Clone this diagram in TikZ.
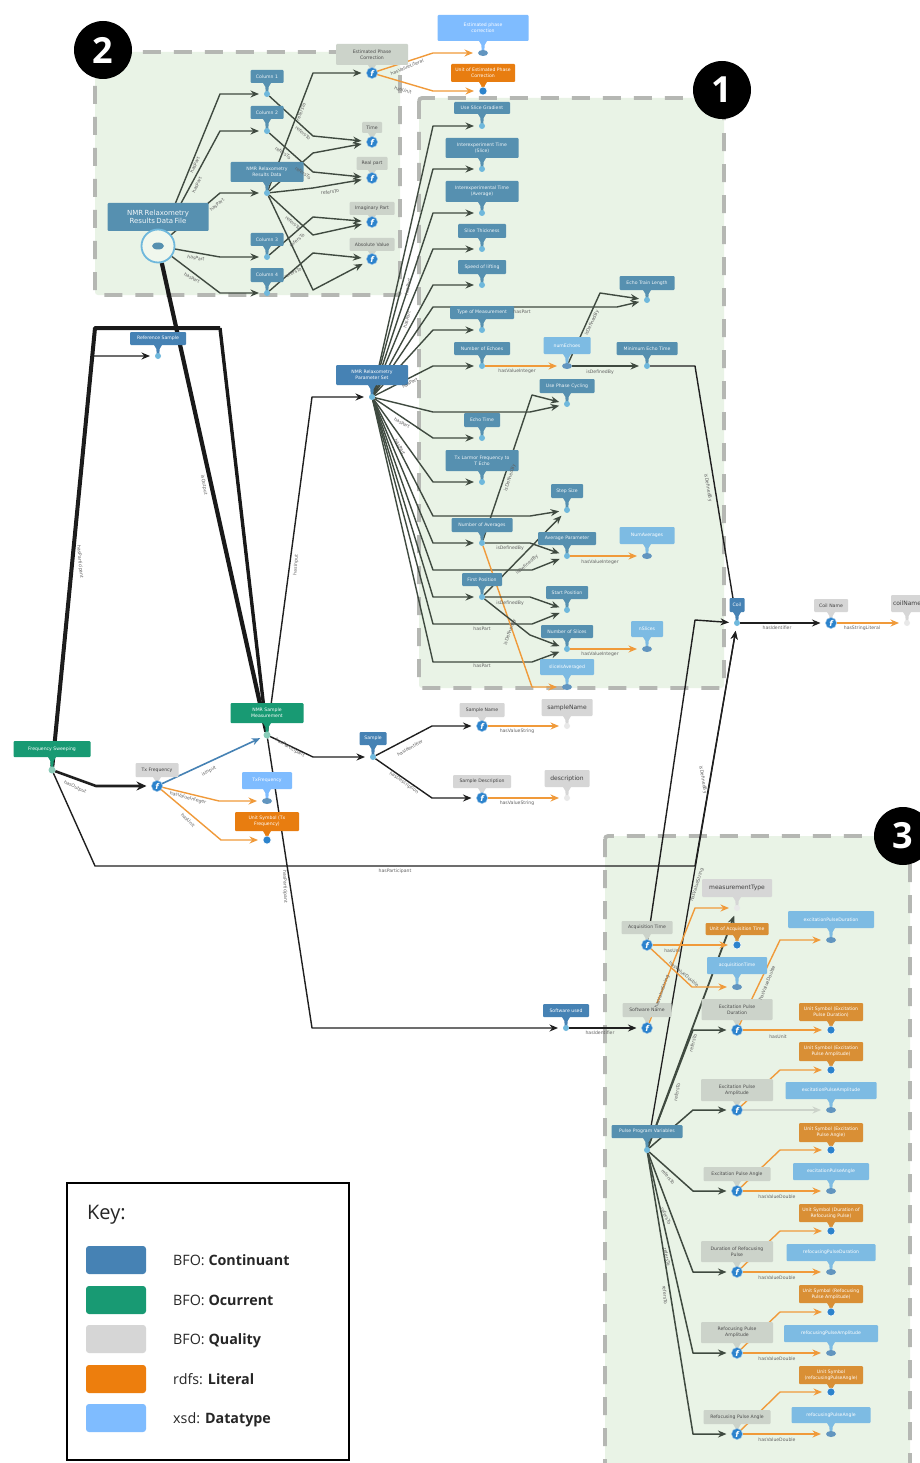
\documentclass[tikz,border=0pt]{standalone}
\usepackage{fontspec}
\setmainfont{DejaVu Sans}
\newfontfamily\keyf{Open Sans}
\usetikzlibrary{arrows.meta,shapes.geometric}
\definecolor{panelg}{HTML}{E9F3E6}
\definecolor{dashg}{HTML}{B5B7B3}
\definecolor{cC}{HTML}{4682B4}
\definecolor{cCp}{HTML}{5690B0}
\definecolor{cO}{HTML}{189A73}
\definecolor{cQ}{HTML}{D6D6D6}
\definecolor{cQp}{HTML}{CCD3CA}
\definecolor{cL}{HTML}{E87D10}
\definecolor{cLp}{HTML}{D98F35}
\definecolor{cD}{HTML}{7FBCFF}
\definecolor{cDp}{HTML}{7DBBE3}
\definecolor{edg}{HTML}{3F4A40}
\definecolor{oran}{HTML}{F09A3A}
\definecolor{iconb}{HTML}{2C83CC}
\definecolor{lightdot}{HTML}{6FB8DC}
\pgfdeclarelayer{panels}\pgfdeclarelayer{edges}
\pgfsetlayers{panels,edges,main}
\tikzset{
 panelbox/.style={fill=panelg,draw=dashg,line width=3.8pt,dash pattern=on 18pt off 13pt,rounded corners=3pt},
 badge/.style={circle,fill=black,text=white,minimum size=58pt,inner sep=0pt,font=\keyf\bfseries\fontsize{36}{36}\selectfont},
 basebox/.style={rectangle,rounded corners=1pt,inner sep=0pt,outer sep=0pt,align=center,font=\fontsize{4.6}{6}\selectfont},
 Cbox/.style={basebox,fill=cC,text=white},Cpbox/.style={basebox,fill=cCp,text=white!92!cCp},
 Obox/.style={basebox,fill=cO,text=white},Qbox/.style={basebox,fill=cQ,text=black!75},
 Qpbox/.style={basebox,fill=cQp,text=black!70},Lbox/.style={basebox,fill=cL,text=white},
 Lpbox/.style={basebox,fill=cLp,text=white},Dbox/.style={basebox,fill=cD,text=white},
 Dpbox/.style={basebox,fill=cDp,text=white},Vbox/.style={basebox,fill=cQ,text=black!75,font=\fontsize{6}{7}\selectfont},
 Ctip/.style={fill=cC},Cptip/.style={fill=cCp},Otip/.style={fill=cO},Qtip/.style={fill=cQ},Qptip/.style={fill=cQp},
 Ltip/.style={fill=cL},Lptip/.style={fill=cLp},Dtip/.style={fill=cD},Dptip/.style={fill=cDp},Vtip/.style={fill=cQ},
 basedot/.style={inner sep=0pt,outer sep=0pt},
 Cdot/.style={basedot,circle,fill=lightdot,minimum size=6pt},Cpdot/.style={basedot,circle,fill=lightdot,minimum size=6pt},
 Odot/.style={basedot,circle,fill=cO!50!white,minimum size=7pt},
 Qdot/.style={basedot,circle,fill=iconb,draw=white!50!iconb,line width=.5pt,minimum size=11pt,text=white},
 Qpdot/.style={Qdot},Ldot/.style={basedot,circle,fill=iconb,draw=white,line width=.5pt,minimum size=8pt},Lpdot/.style={Ldot},
 Ddot/.style={basedot,ellipse,fill=cC!85!white,minimum width=10pt,minimum height=6pt},Dpdot/.style={Ddot},
 Vdot/.style={basedot,circle,fill=cQ!55!white,minimum size=6pt},
 ed/.style={draw=edg,line width=1.4pt,line join=round,shorten >=5pt,-{Stealth[length=8.5pt,width=7pt]}},
 edk/.style={ed,draw=black!88},
 oed/.style={ed,draw=oran},
 lab/.style={inner sep=0pt,text=black!62,font=\fontsize{4.6}{5}\selectfont},
 swatch/.style={rounded corners=3pt,minimum width=60pt,minimum height=28pt,inner sep=0pt},
 keylab/.style={anchor=base west,inner sep=0pt,font=\keyf\fontsize{14.3}{18}\selectfont,text=black!85},
}
\newcommand{\Qicon}{\fontsize{8}{8}\selectfont\bfseries\itshape f}
\newcommand{\Qpicon}{\Qicon}
\newcommand{\cn}[8]{% kind,name,cx,width,y1,y2,doty,text
 \pgfmathsetmacro{\cmy}{(#5+#6)/2}\pgfmathsetmacro{\chh}{#6-#5}\pgfmathsetmacro{\ctw}{#4-3}
 \fill[#1tip] (#3-4,#6) -- (#3-1.6,#6+4) -- (#3-1.3,#7) -- (#3+1.3,#7) -- (#3+1.6,#6+4) -- (#3+4,#6) -- cycle;
 \node[#1box,minimum width=#4pt,minimum height=\chh pt,text width=\ctw pt] (#2box) at (#3,\cmy) {#8};
 \node[#1dot] (#2) at (#3,#7) {\csname#1icon\endcsname};
}
\newcounter{lb}
\newcommand{\elab}[4]{\stepcounter{lb}\node[lab,rotate=#3] (lab\arabic{lb}) at (#1,#2) {#4};}
\newcommand{\E}[4][]{\draw[ed,#1] (#2) -- #3 -- (#4);}
\newcommand{\K}[4][]{\draw[edk,#1] (#2) -- #3 -- (#4);}
\newcommand{\Or}[3]{\draw[oed] (#1) -- #2 -- (#3);}
\newcommand{\St}[3][]{\draw[ed,#1] (#2) -- (#3);}
\newcommand{\OrS}[2]{\draw[oed] (#1) -- (#2);}
\begin{document}
\begin{tikzpicture}[x=1pt,y=-1pt]
\clip (0,0) rectangle (920,1463);
\begin{pgfonlayer}{panels}
\fill[white] (0,0) rectangle (920,1463);
\draw[panelbox] (95,52) rectangle (400,295);
\draw[panelbox] (419,98) rectangle (724,688);
\draw[panelbox] (605,836) rectangle (910,1500);
\end{pgfonlayer}
% panel 2
\cn{Cp}{File}{158}{101}{203}{231}{246}{\fontsize{7}{10}\selectfont NMR Relaxometry\\Results Data File}
\cn{Cp}{ColA}{267}{33}{70}{83}{94}{Column 1}
\cn{Cp}{ColB}{267}{33}{106}{119}{131}{Column 2}
\cn{Cp}{RD}{267}{73}{162}{182}{193}{NMR Relaxometry\\Results Data}
\cn{Cp}{ColC}{267}{33}{233}{246}{257}{Column 3}
\cn{Cp}{ColD}{267}{33}{268}{282}{293}{Column 4}
\cn{Qp}{EPC}{372}{72}{44}{65}{73}{Estimated Phase\\Correction}
\cn{Qp}{TimeQ}{372}{20}{122}{133}{142}{Time}
\cn{Qp}{RealQ}{372}{31}{157}{170}{178}{Real part}
\cn{Qp}{ImagQ}{372}{45}{202}{215}{222}{Imaginary Part}
\cn{Qp}{AbsQ}{372}{45}{238}{251}{259}{Absolute Value}
\cn{D}{EPCd}{483}{91}{15}{41}{53}{Estimated phase\\correction}
\cn{L}{EPCu}{483}{64}{64}{82}{91}{Unit of Estimated Phase\\Correction}
\node[circle,draw=lightdot,line width=1.8pt,fill=panelg!70!white,minimum size=33pt,inner sep=0pt] (FileRing) at (158,246) {};
\node[ellipse,fill=cCp,minimum width=12pt,minimum height=7pt,inner sep=0pt] (FileCore) at (158,246) {};
% panel 1
\cn{Cp}{USG}{482}{56}{102}{114}{126}{Use Slice Gradient}
\cn{Cp}{IES}{482}{73}{138}{158}{169}{Interexperiment Time\\(Slice)}
\cn{Cp}{IEA}{482}{73}{181}{202}{213}{Interexperimental Time\\(Average)}
\cn{Cp}{STh}{482}{48}{224}{238}{249}{Slice Thickness}
\cn{Cp}{SpL}{482}{48}{260}{274}{285}{Speed of lifting}
\cn{Cp}{TM}{482}{64}{306}{319}{330}{Type of Measurement}
\cn{Cp}{NE}{482}{56}{342}{355}{366}{Number of Echoes}
\cn{Dp}{nE}{567}{47}{337}{354}{366}{numEchoes}
\cn{Cp}{ETL}{647}{55}{276}{290}{300}{Echo Train Length}
\cn{Cp}{MET}{647}{61}{342}{355}{366}{Minimum Echo Time}
\cn{Cp}{UPC}{567}{55}{379}{393}{404}{Use Phase Cycling}
\cn{Cp}{ETi}{482}{36}{413}{427}{438}{Echo Time}
\cn{Cp}{TLF}{482}{73}{450}{471}{482}{Tx Larmor Frequency to\\T Echo}
\cn{Cp}{SSz}{567}{32}{484}{498}{510}{Step Size}
\cn{Cp}{NA}{482}{61}{518}{532}{543}{Number of Averages}
\cn{Cp}{APa}{567}{58}{532}{545}{556}{Average Parameter}
\cn{Dp}{NAd}{647}{55}{527}{544}{556}{NumAverages}
\cn{Cp}{FP}{482}{40}{573}{586}{597}{First Position}
\cn{Cp}{SPo}{567}{42}{586}{599}{610}{Start Position}
\cn{Cp}{NSl}{567}{52}{625}{638}{649}{Number of Slices}
\cn{Dp}{nSl}{647}{32}{621}{637}{649}{nSlices}
\cn{Dp}{SIA}{567}{54}{659}{675}{687}{sliceIsAveraged}
\cn{C}{PS}{372}{72}{365}{385}{397}{NMR Relaxometry\\Parameter Set}
\cn{C}{Coil}{737}{15}{598}{612}{623}{Coil}
\cn{Q}{CoN}{831}{34}{599}{612}{623}{Coil Name}
\cn{V}{coN}{907}{32}{595}{612}{623}{coilName}
% left and centre
\cn{C}{RS}{158}{56}{332}{345}{356}{Reference Sample}
\cn{O}{NM}{267}{73}{703}{723}{735}{NMR Sample\\Measurement}
\cn{O}{FS}{52}{77}{741}{757}{770}{Frequency Sweeping}
\cn{Q}{Tx}{157}{43}{763}{777}{786}{Tx Frequency}
\cn{D}{Txd}{267}{50}{772}{789}{801}{TxFrequency}
\cn{L}{Txu}{267}{64}{812}{831}{840}{Unit Symbol (Tx\\Frequency)}
\cn{C}{Sam}{373}{27}{732}{745}{757}{Sample}
\cn{Q}{SaN}{482}{45}{703}{717}{726}{Sample Name}
\cn{V}{saN}{567}{51}{699}{716}{726}{sampleName}
\cn{Q}{SaD}{482}{58}{775}{788}{798}{Sample Description}
\cn{V}{sad}{567}{45}{770}{787}{798}{description}
% panel 3
\cn{C}{Sw}{566}{46}{1004}{1017}{1028}{Software used}
\cn{Qp}{SwN}{647}{49}{1003}{1017}{1028}{Software Name}
\cn{Qp}{AqT}{647}{51}{921}{934}{945}{Acquisition Time}
\cn{V}{mT}{737}{70}{879}{897}{908}{measurementType}
\cn{Lp}{AqU}{737}{63}{923}{935}{945}{Unit of Acquisition Time}
\cn{Dp}{AqD}{737}{60}{957}{974}{987}{acquisitionTime}
\cn{Qp}{EPD}{737}{71}{999}{1020}{1030}{Excitation Pulse\\Duration}
\cn{Dp}{EPDd}{831}{86}{911}{928}{940}{excitationPulseDuration}
\cn{Lp}{EPDu}{831}{64}{1003}{1021}{1030}{Unit Symbol (Excitation\\Pulse Duration)}
\cn{Lp}{EPAu}{831}{64}{1042}{1061}{1070}{Unit Symbol (Excitation\\Pulse Amplitude)}
\cn{Qp}{EPA}{737}{72}{1079}{1101}{1110}{Excitation Pulse\\Amplitude}
\cn{Dp}{EPAd}{831}{91}{1082}{1099}{1110}{excitationPulseAmplitude}
\cn{Cp}{PV}{647}{71}{1125}{1138}{1150}{Pulse Program Variables}
\cn{Lp}{EPGu}{831}{64}{1123}{1142}{1150}{Unit Symbol (Excitation\\Pulse Angle)}
\cn{Qp}{EPG}{737}{67}{1167}{1181}{1191}{Excitation Pulse Angle}
\cn{Dp}{EPGd}{831}{76}{1163}{1180}{1191}{excitationPulseAngle}
\cn{Lp}{DRu}{831}{64}{1204}{1222}{1231}{Unit Symbol (Duration of\\Refocusing Pulse)}
\cn{Qp}{DR}{737}{72}{1241}{1262}{1272}{Duration of Refocusing\\Pulse}
\cn{Dp}{DRd}{831}{89}{1244}{1261}{1272}{refocusingPulseDuration}
\cn{Lp}{RAu}{831}{64}{1285}{1303}{1312}{Unit Symbol (Refocusing\\Pulse Amplitude)}
\cn{Qp}{RA}{737}{72}{1322}{1343}{1353}{Refocusing Pulse\\Amplitude}
\cn{Dp}{RAd}{831}{94}{1325}{1342}{1353}{refocusingPulseAmplitude}
\cn{Lp}{RGu}{831}{64}{1366}{1384}{1392}{Unit Symbol\\(refocusingPulseAngle)}
\cn{Qp}{RG}{737}{67}{1410}{1424}{1434}{Refocusing Pulse Angle}
\cn{Dp}{RGd}{831}{79}{1407}{1423}{1434}{refocusingPulseAngle}
% connectors
\begin{pgfonlayer}{edges}
\E{FileRing}{(220,94)}{ColA}\E{FileRing}{(220,131)}{ColB}\E{FileRing}{(220,193)}{RD}
\E{FileRing}{(220,257)}{ColC}\E{FileRing}{(220,293)}{ColD}
\E{ColA}{(313,136)}{TimeQ}\E{RD}{(313,153)}{TimeQ}\E{ColB}{(313,172)}{RealQ}\E{RD}{(313,188)}{RealQ}
\E{RD}{(313,235)}{ImagQ}\E{ColC}{(313,217)}{ImagQ}\E{ColD}{(313,253)}{AbsQ}\E{RD}{(313,290)}{AbsQ}
\E{RD}{(313,73)}{EPC}
\Or{EPC}{(433,53)}{EPCd}\Or{EPC}{(433,91)}{EPCu}
% parameter set fan
\foreach \t/\yy in {USG/126,IES/169,IEA/213,STh/249,SpL/285,TM/330,NE/366,ETi/438,TLF/482,NA/543,FP/597}{\draw[ed] (PS) -- (433,\yy) -- (\t);}
\draw[ed] (PS) -- (433,307) -- (617,307) -- (ETL);
\draw[ed] (PS) -- (433,412) -- (530,412) -- (UPC);
\draw[ed] (PS) -- (433,516) -- (530,516) -- (SSz);
\draw[ed] (PS) -- (433,570) -- (532,570) -- (APa);
\draw[ed] (PS) -- (433,624) -- (532,624) -- (SPo);
\draw[ed] (PS) -- (433,662) -- (532,662) -- (NSl);
\E{NA}{(532,395)}{UPC}\E{NA}{(530,543)}{APa}
\Or{NA}{(532,687)}{SIA}
\St{FP}{SSz}\E{FP}{(530,597)}{SPo}\E{FP}{(530,635)}{NSl}
\OrS{NE}{nE}\E{nE}{(600,293)}{ETL}\St{nE}{MET}
\OrS{APa}{NAd}\OrS{NSl}{nSl}
\draw[edk,line width=1.4pt] (MET) -- (695,366) -- (Coil);
\St[edk]{Coil}{CoN}\OrS{CoN}{coN}
% thick black lines
\draw[black!90,line width=4pt,line join=round] (FS) -- (95,328) -- (220,328);
\draw[black!90,line width=3.4pt,line join=round] (220,328) -- (NM);
\draw[black!90,line width=4.2pt] (FileRing) -- (NM);
\K{FS}{(92,356)}{RS}
\draw[edk,line width=2.6pt,-{Stealth[length=10pt,width=9pt]}] (FS) -- (96,786) -- (Tx);
\draw[ed,draw=cC,line width=1.6pt,shorten >=4pt] (Tx) -- (NM);
\Or{Tx}{(219,801)}{Txd}\Or{Tx}{(221,840)}{Txu}
\K{NM}{(312,397)}{PS}\K{NM}{(313,757)}{Sam}\K{NM}{(312,1028)}{Sw}
\K{Sam}{(432,726)}{SaN}\K{Sam}{(432,798)}{SaD}
\OrS{SaN}{saN}\OrS{SaD}{sad}
\draw[edk] (FS) -- (95,866) -- (695,866) -- (Coil);
% panel 3
\St[edk,line width=1.3pt]{PV}{Coil}
\K{AqT}{(695,620)}{Coil}
\St[line width=1.8pt]{PV}{mT}
\St[edk]{Sw}{SwN}
\Or{SwN}{(695,908)}{mT}\OrS{AqT}{AqU}\Or{AqT}{(692,987)}{AqD}
\foreach \t/\yy in {EPD/1030,EPA/1110,EPG/1191,DR/1272,RA/1353,RG/1434}{\draw[ed,line width=1.5pt] (PV) -- (693,\yy) -- (\t);}
\Or{EPD}{(780,940)}{EPDd}\OrS{EPD}{EPDu}
\Or{EPA}{(780,1070)}{EPAu}\draw[ed,draw=cQp] (EPA) -- (EPAd);
\Or{EPG}{(780,1150)}{EPGu}\OrS{EPG}{EPGd}
\Or{DR}{(780,1231)}{DRu}\OrS{DR}{DRd}
\Or{RA}{(780,1312)}{RAu}\OrS{RA}{RAd}
\Or{RG}{(780,1392)}{RGu}\OrS{RG}{RGd}
\end{pgfonlayer}
% edge labels
\elab{195}{165}{65}{hasPart}\elab{197}{185}{65}{hasPart}\elab{217}{205}{40}{hasPart}
\elab{196}{258}{-10}{hasPart}\elab{192}{278}{-30}{hasPart}
\elab{303}{133}{-40}{refersTo}\elab{283}{153}{-35}{refersTo}\elab{303}{173}{-35}{refersTo}
\elab{293}{223}{-40}{refersTo}\elab{297}{240}{40}{refersTo}\elab{293}{273}{25}{refersTo}
\elab{330}{192}{8}{refersTo}\elab{301}{112}{68}{refersTo}
\elab{407}{67}{22}{hasValueLiteral}\elab{403}{90}{-15}{hasUnit}
\elab{408}{287}{80}{hasPart}\elab{407}{320}{75}{hasPart}\elab{410}{383}{30}{hasPart}
\elab{522}{312}{0}{hasPart}\elab{402}{423}{-30}{hasPart}\elab{400}{447}{-60}{hasPart}
\elab{482}{629}{0}{hasPart}\elab{482}{666}{0}{hasPart}
\elab{510}{548}{0}{isDefinedBy}\elab{510}{603}{0}{isDefinedBy}\elab{600}{372}{0}{isDefinedBy}
\elab{600}{562}{0}{hasValueInteger}\elab{600}{654}{0}{hasValueInteger}\elab{517}{371}{0}{hasValueInteger}
\elab{592}{323}{65}{isDefinedBy}\elab{527}{565}{40}{isDefinedBy}\elab{510}{478}{72}{isDefinedBy}
\elab{510}{632}{70}{isDefinedBy}\elab{708}{488}{-80}{isDefinedBy}
\elab{204}{485}{-80}{isOutput}\elab{80}{562}{-85}{hasParticipant}\elab{296}{565}{85}{hasInput}
\elab{285}{887}{-88}{hasParticipant}\elab{75}{787}{-25}{hasOutput}\elab{209}{771}{30}{isInput}
\elab{188}{798}{-15}{hasValueInteger}\elab{188}{820}{-45}{hasUnit}\elab{290}{748}{-30}{hasParticipant}
\elab{395}{871}{0}{hasParticipant}\elab{410}{748}{30}{hasIdentifier}\elab{404}{783}{-35}{hasDescription}
\elab{517}{731}{0}{hasValueString}\elab{517}{803}{0}{hasValueString}
\elab{777}{628}{0}{hasIdentifier}\elab{862}{628}{0}{hasStringLiteral}
\elab{703}{780}{-80}{isDefinedBy}\elab{697}{885}{72}{hasValueString}\elab{662}{992}{70}{hasValueString}
\elab{673}{951}{0}{hasUnit}\elab{684}{974}{-40}{hasValueDouble}\elab{600}{1033}{0}{hasIdentifier}
\elab{767}{983}{68}{hasValueDouble}\elab{778}{1037}{0}{hasUnit}
\elab{693}{1043}{75}{refersTo}\elab{677}{1092}{80}{refersTo}\elab{668}{1177}{-50}{refersTo}
\elab{666}{1216}{-65}{refersTo}\elab{667}{1257}{-78}{refersTo}\elab{665}{1295}{-85}{refersTo}
\elab{777}{1197}{0}{hasValueDouble}\elab{777}{1278}{0}{hasValueDouble}\elab{777}{1359}{0}{hasValueDouble}\elab{777}{1440}{0}{hasValueDouble}
% badges
\node[badge] (bTwo) at (103,50) {2};
\node[badge] (bOne) at (722,90) {1};
\node[badge] (bThree) at (903,836) {3};
% key
\draw[black,line width=1.6pt,fill=white] (67,1183) rectangle (349,1460);
\node[anchor=base west,inner sep=0pt,font=\keyf\fontsize{20}{24}\selectfont,text=black!85] (keyT) at (87,1219) {Key:};
\node[swatch,fill=cC] (kA) at (116,1260) {};
\node[swatch,fill=cO] (kB) at (116,1300) {};
\node[swatch,fill=cQ] (kC) at (116,1339) {};
\node[swatch,fill=cL!80!orange] (kD) at (116,1379) {};
\node[swatch,fill=cD] (kE) at (116,1418) {};
\node[keylab] (tA) at (173,1265) {BFO: \textbf{Continuant}};
\node[keylab] (tB) at (173,1305) {BFO: \textbf{Ocurrent}};
\node[keylab] (tC) at (173,1344) {BFO: \textbf{Quality}};
\node[keylab] (tD) at (173,1384) {rdfs: \textbf{Literal}};
\node[keylab] (tE) at (173,1423) {xsd: \textbf{Datatype}};
\end{tikzpicture}
\end{document}
